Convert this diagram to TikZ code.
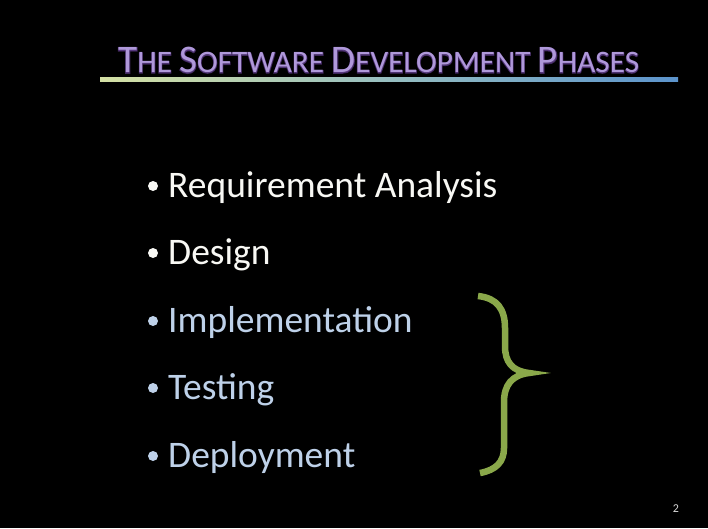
\documentclass[tikz,border=0pt]{standalone}
\usepackage{fontspec}
\setmainfont{Carlito}
\usetikzlibrary{shadings}
\definecolor{titlecol}{RGB}{175,152,218}
\definecolor{glowcol}{RGB}{110,70,160}
\definecolor{whitetxt}{RGB}{248,248,244}
\definecolor{bluetxt}{RGB}{190,209,233}
\definecolor{bracecol}{RGB}{138,168,74}
\definecolor{ulleft}{RGB}{212,224,164}
\definecolor{ulmid}{RGB}{150,190,192}
\definecolor{ulright}{RGB}{92,148,204}
\newfontfamily\glowfont[FakeBold=4]{Carlito}
\newcommand{\bigC}[1]{{\fontsize{39.1}{40}\selectfont #1}}
\newcommand{\smC}[1]{{\fontsize{31.3}{32}\selectfont #1}}
\newcommand{\titletext}{\bigC{T}\smC{HE }\bigC{S}\smC{OFTWARE }\bigC{D}\smC{EVELOPMENT }\bigC{P}\smC{HASES}}
\begin{document}
\begin{tikzpicture}[x=1pt,y=-1pt,
  itemtext/.style={anchor=base west,inner sep=0pt,font=\fontsize{37.5}{40}\selectfont},
  dot/.style={circle,inner sep=0pt,minimum size=10pt}]
\useasboundingbox (0,0) rectangle (708,528);
\fill[black] (0,0) rectangle (708,528);
% title glow
\node[anchor=base west,inner sep=0pt,text=glowcol,opacity=0.55,font=\glowfont] (titleglow) at (118,73) {\titletext};
% title
\node[anchor=base west,inner sep=0pt,text=titlecol] (title) at (118,72) {\titletext};
% underline
\shade[left color=ulleft,right color=ulright,middle color=ulmid] (100,77) rectangle (678,81);
% items
\node[dot,fill=whitetxt] (b1) at (153,186) {};
\node[itemtext,text=whitetxt] (t1) at (168,197) {Requirement Analysis};
\node[dot,fill=whitetxt] (b2) at (153,253) {};
\node[itemtext,text=whitetxt] (t2) at (168,264) {Design};
\node[dot,fill=bluetxt] (b3) at (153,321) {};
\node[itemtext,text=bluetxt] (t3) at (168,332) {Implementation};
\node[dot,fill=bluetxt] (b4) at (153,388) {};
\node[itemtext,text=bluetxt] (t4) at (168,399) {Testing};
\node[dot,fill=bluetxt] (b5) at (153,456) {};
\node[itemtext,text=bluetxt] (t5) at (168,467) {Deployment};
% brace
\draw[bracecol,line width=6.5pt] (478,296) .. controls (497,298) and (505,309) .. (505,328) -- (505,346)
  .. controls (505,362) and (512,371) .. (529,373)
  .. controls (512,375) and (504,385) .. (504,402) -- (504,448)
  .. controls (504,462) and (496,470) .. (480,473);
% page number
\node[anchor=base,inner sep=0pt,text=white!85!black,font=\fontsize{12}{14}\selectfont] (pg) at (676,512) {2};
\end{tikzpicture}
\end{document}
